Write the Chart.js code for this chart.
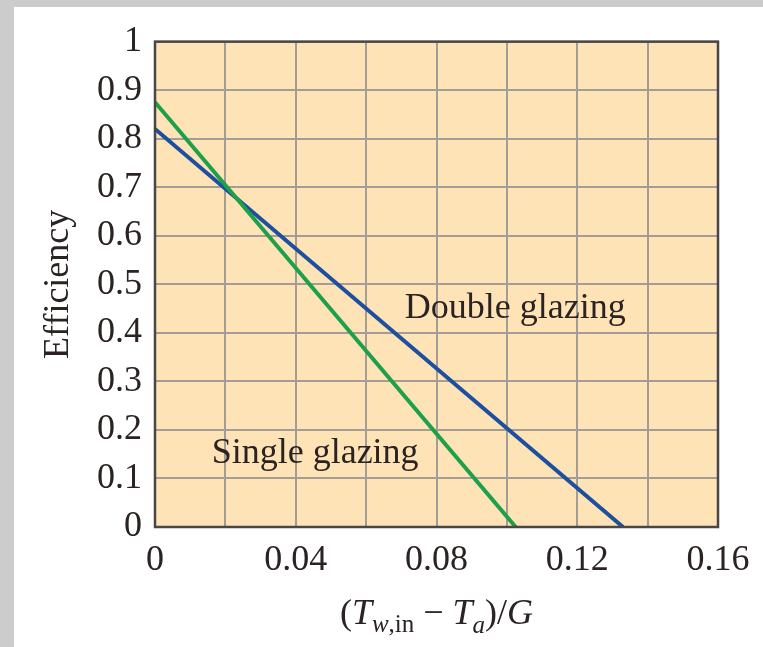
<!DOCTYPE html>
<html lang="en">
  <head>
    <meta charset="UTF-8">
    <script src="https://cdn.jsdelivr.net/npm/chart.js@4.4.1/dist/chart.umd.min.js"></script>
    <style>
      html, body {
        margin: 0;
        padding: 0;
        background: #cccccc;
        width: 763px;
        height: 647px;
        overflow: hidden;
      }
      .panel {
        position: absolute;
        left: 14px;
        top: 7px;
        width: 749px;
        height: 640px;
        background: #ffffff;
      }
    </style>
  </head>
  <body>
    <div class="panel">
      <canvas id="effChart" width="749" height="640"></canvas>
    </div>

    <script>
      // collector efficiency vs (Tw,in - Ta)/G
      const singleX = [0, 0.1025];
      const singleY = [0.875, 0];
      const doubleX = [0, 0.133];
      const doubleY = [0.82, 0];

      const xTickValues = [0, 0.02, 0.04, 0.06, 0.08, 0.10, 0.12, 0.14, 0.16];
      const xTickLabels = ['0', '', '0.04', '', '0.08', '', '0.12', '', '0.16'];
      const yTickValues = [0, 0.1, 0.2, 0.3, 0.4, 0.5, 0.6, 0.7, 0.8, 0.9, 1];
      const yTickLabels = ['0', '0.1', '0.2', '0.3', '0.4', '0.5', '0.6', '0.7', '0.8', '0.9', '1'];

      const labelNames = ['Double glazing', 'Single glazing'];
      const labelX = [0.071, 0.0161];
      const labelY = [0.431, 0.131];

      const SERIF = '"Liberation Serif", "Times New Roman", "DejaVu Serif", serif';
      const INK = '#2b2222';

      const toPoints = (xs, ys) => xs.map((x, i) => ({x: x, y: ys[i]}));

      const framePlugin = {
        id: 'frame',
        beforeDraw(chart) {
          const {ctx, chartArea: a} = chart;
          ctx.save();
          ctx.fillStyle = '#fee3b6';
          ctx.fillRect(a.left, a.top, a.right - a.left, a.bottom - a.top);
          ctx.restore();
        },
        afterDraw(chart) {
          const {ctx, chartArea: a, scales} = chart;
          ctx.save();
          ctx.strokeStyle = '#4a4646';
          ctx.lineWidth = 2.5;
          ctx.strokeRect(a.left, a.top, a.right - a.left, a.bottom - a.top);

          // curve labels
          ctx.fillStyle = INK;
          ctx.font = '36px ' + SERIF;
          ctx.textBaseline = 'alphabetic';
          ctx.textAlign = 'left';
          labelNames.forEach((t, i) => {
            ctx.fillText(t, scales.x.getPixelForValue(labelX[i]), scales.y.getPixelForValue(labelY[i]));
          });

          // x axis title with subscripts
          const parts = [
            {t: '(', f: '36px', it: false, dy: 0},
            {t: 'T', f: '36px', it: true, dy: 0},
            {t: 'w', f: '25px', it: true, dy: 8},
            {t: ',in', f: '25px', it: false, dy: 8},
            {t: ' \u2212 ', f: '36px', it: false, dy: 0},
            {t: 'T', f: '36px', it: true, dy: 0},
            {t: 'a', f: '25px', it: true, dy: 9},
            {t: ')/', f: '36px', it: false, dy: 0},
            {t: 'G', f: '36px', it: true, dy: 0}
          ];
          let total = 0;
          parts.forEach(p => {
            ctx.font = (p.it ? 'italic ' : '') + p.f + ' ' + SERIF;
            p.w = ctx.measureText(p.t).width;
            total += p.w;
          });
          let x = (a.left + a.right) / 2 - total / 2;
          const base = 617;
          parts.forEach(p => {
            ctx.font = (p.it ? 'italic ' : '') + p.f + ' ' + SERIF;
            ctx.fillText(p.t, x, base + p.dy);
            x += p.w;
          });
          ctx.restore();
        }
      };

      new Chart(document.getElementById('effChart'), {
        type: 'line',
        data: {
          datasets: [
            {
              label: 'Single glazing',
              data: toPoints(singleX, singleY),
              borderColor: '#1ea04b',
              borderWidth: 4,
              pointRadius: 0,
              tension: 0
            },
            {
              label: 'Double glazing',
              data: toPoints(doubleX, doubleY),
              borderColor: '#1d4fa0',
              borderWidth: 4,
              pointRadius: 0,
              tension: 0
            }
          ]
        },
        options: {
          responsive: false,
          animation: false,
          layout: {padding: {top: 33, right: 45, bottom: 0, left: 0}},
          plugins: {
            legend: {display: false},
            tooltip: {enabled: false}
          },
          scales: {
            x: {
              type: 'linear',
              min: 0,
              max: 0.16,
              afterBuildTicks: s => { s.ticks = xTickValues.map(v => ({value: v})); },
              afterFit: s => { s.height = 120; },
              grid: {color: '#a39d95', lineWidth: 2, drawTicks: false},
              border: {display: false},
              ticks: {
                autoSkip: false,
                maxRotation: 0,
                padding: 12,
                color: INK,
                font: {family: SERIF, size: 36},
                callback: (v, i) => xTickLabels[i]
              }
            },
            y: {
              type: 'linear',
              min: 0,
              max: 1,
              afterBuildTicks: s => { s.ticks = yTickValues.map(v => ({value: v})); },
              afterFit: s => { s.width = 141; },
              grid: {color: '#a39d95', lineWidth: 2, drawTicks: false},
              border: {display: false},
              ticks: {
                autoSkip: false,
                padding: 13,
                color: INK,
                font: {family: SERIF, size: 36},
                callback: (v, i) => yTickLabels[i]
              },
              title: {
                display: true,
                text: 'Efficiency',
                color: INK,
                font: {family: SERIF, size: 36},
                padding: {top: 23, bottom: 0}
              }
            }
          }
        },
        plugins: [framePlugin]
      });
    </script>
  </body>
</html>
